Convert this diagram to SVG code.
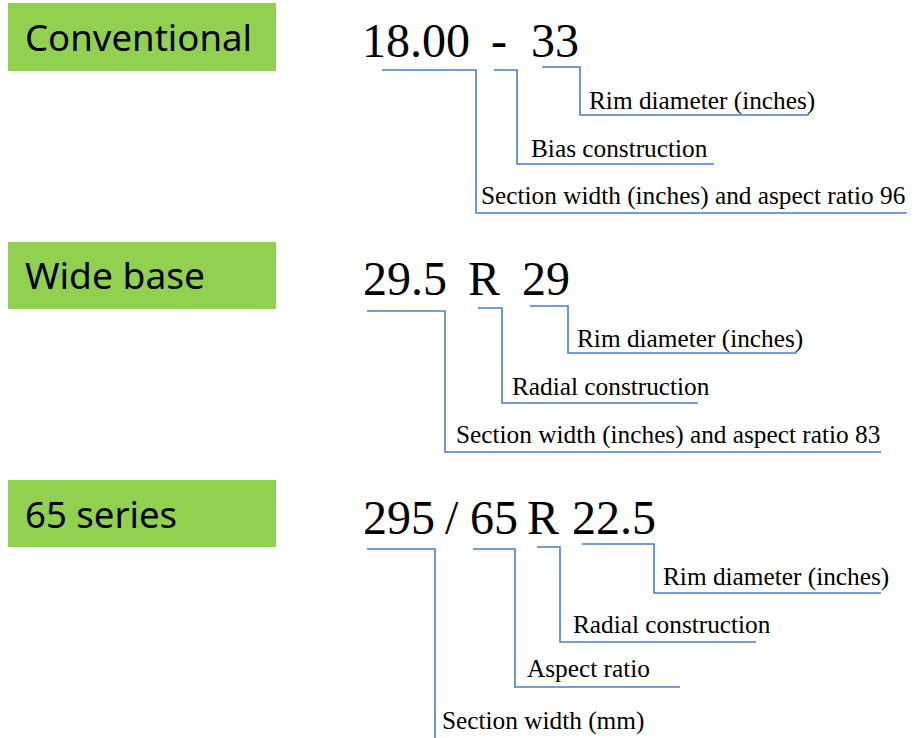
<svg xmlns="http://www.w3.org/2000/svg" width="914" height="738" viewBox="0 0 914 738">
<style>
.box{fill:#92D050}
.cat{font-family:"Noto Sans","Open Sans",sans-serif;font-size:37px;fill:#000}
.code{font-family:"Liberation Serif","Times New Roman",serif;font-size:48px;fill:#000}
.lbl{font-family:"Liberation Serif","Times New Roman",serif;font-size:25.3px;fill:#000}
.ln{fill:none;stroke:#4A7EC4;stroke-width:1.6}
</style>
<rect width="914" height="738" fill="#fff"/>
<g id="cat-conventional"><rect class="box" x="8" y="3" width="268" height="68"/><text class="cat" x="25" y="51" textLength="227" lengthAdjust="spacingAndGlyphs">Conventional</text></g>
<g id="cat-widebase"><rect class="box" x="8" y="242" width="268" height="67"/><text class="cat" x="25" y="289" textLength="180" lengthAdjust="spacingAndGlyphs">Wide base</text></g>
<g id="cat-65series"><rect class="box" x="8" y="480" width="268" height="67"/><text class="cat" x="25" y="528" textLength="152" lengthAdjust="spacingAndGlyphs">65 series</text></g>

<g id="code1"><text class="code" x="362" y="57">18.00</text><text class="code" x="491" y="57">-</text><text class="code" x="531" y="57">33</text></g>
<g id="code2"><text class="code" x="363" y="295">29.5</text><text class="code" x="468" y="295">R</text><text class="code" x="522" y="295">29</text></g>
<g id="code3"><text class="code" x="363" y="534">295</text><text class="code" x="445" y="534">/</text><text class="code" x="470" y="534">65</text><text class="code" x="527" y="534">R</text><text class="code" x="572" y="534">22.5</text></g>

<g id="labels1">
<text class="lbl" x="589" y="109">Rim diameter (inches)</text>
<text class="lbl" x="531" y="157">Bias construction</text>
<text class="lbl" x="481" y="204">Section width (inches) and aspect ratio 96</text>
</g>
<g id="labels2">
<text class="lbl" x="577" y="347">Rim diameter (inches)</text>
<text class="lbl" x="512" y="395">Radial construction</text>
<text class="lbl" x="456" y="443">Section width (inches) and aspect ratio 83</text>
</g>
<g id="labels3">
<text class="lbl" x="663" y="585">Rim diameter (inches)</text>
<text class="lbl" x="573" y="633">Radial construction</text>
<text class="lbl" x="527" y="677">Aspect ratio</text>
<text class="lbl" x="442" y="729">Section width (mm)</text>
</g>

<g id="connectors">
<polyline class="ln" points="382,70 476,70 476,213 907,213"/>
<polyline class="ln" points="494,70 517,70 517,164 714,164"/>
<polyline class="ln" points="542,67 580,67 580,115 809,115"/>
<polyline class="ln" points="367,311 445,311 445,452 881,452"/>
<polyline class="ln" points="478,308 502,308 502,403 698,403"/>
<polyline class="ln" points="530,306 568,306 568,353 797,353"/>
<polyline class="ln" points="367,549 435,549 435,738"/>
<polyline class="ln" points="473,549 515,549 515,687 680,687"/>
<polyline class="ln" points="537,547 560,547 560,642 756,642"/>
<polyline class="ln" points="582,544 654,544 654,593 881,593"/>
</g>
</svg>
